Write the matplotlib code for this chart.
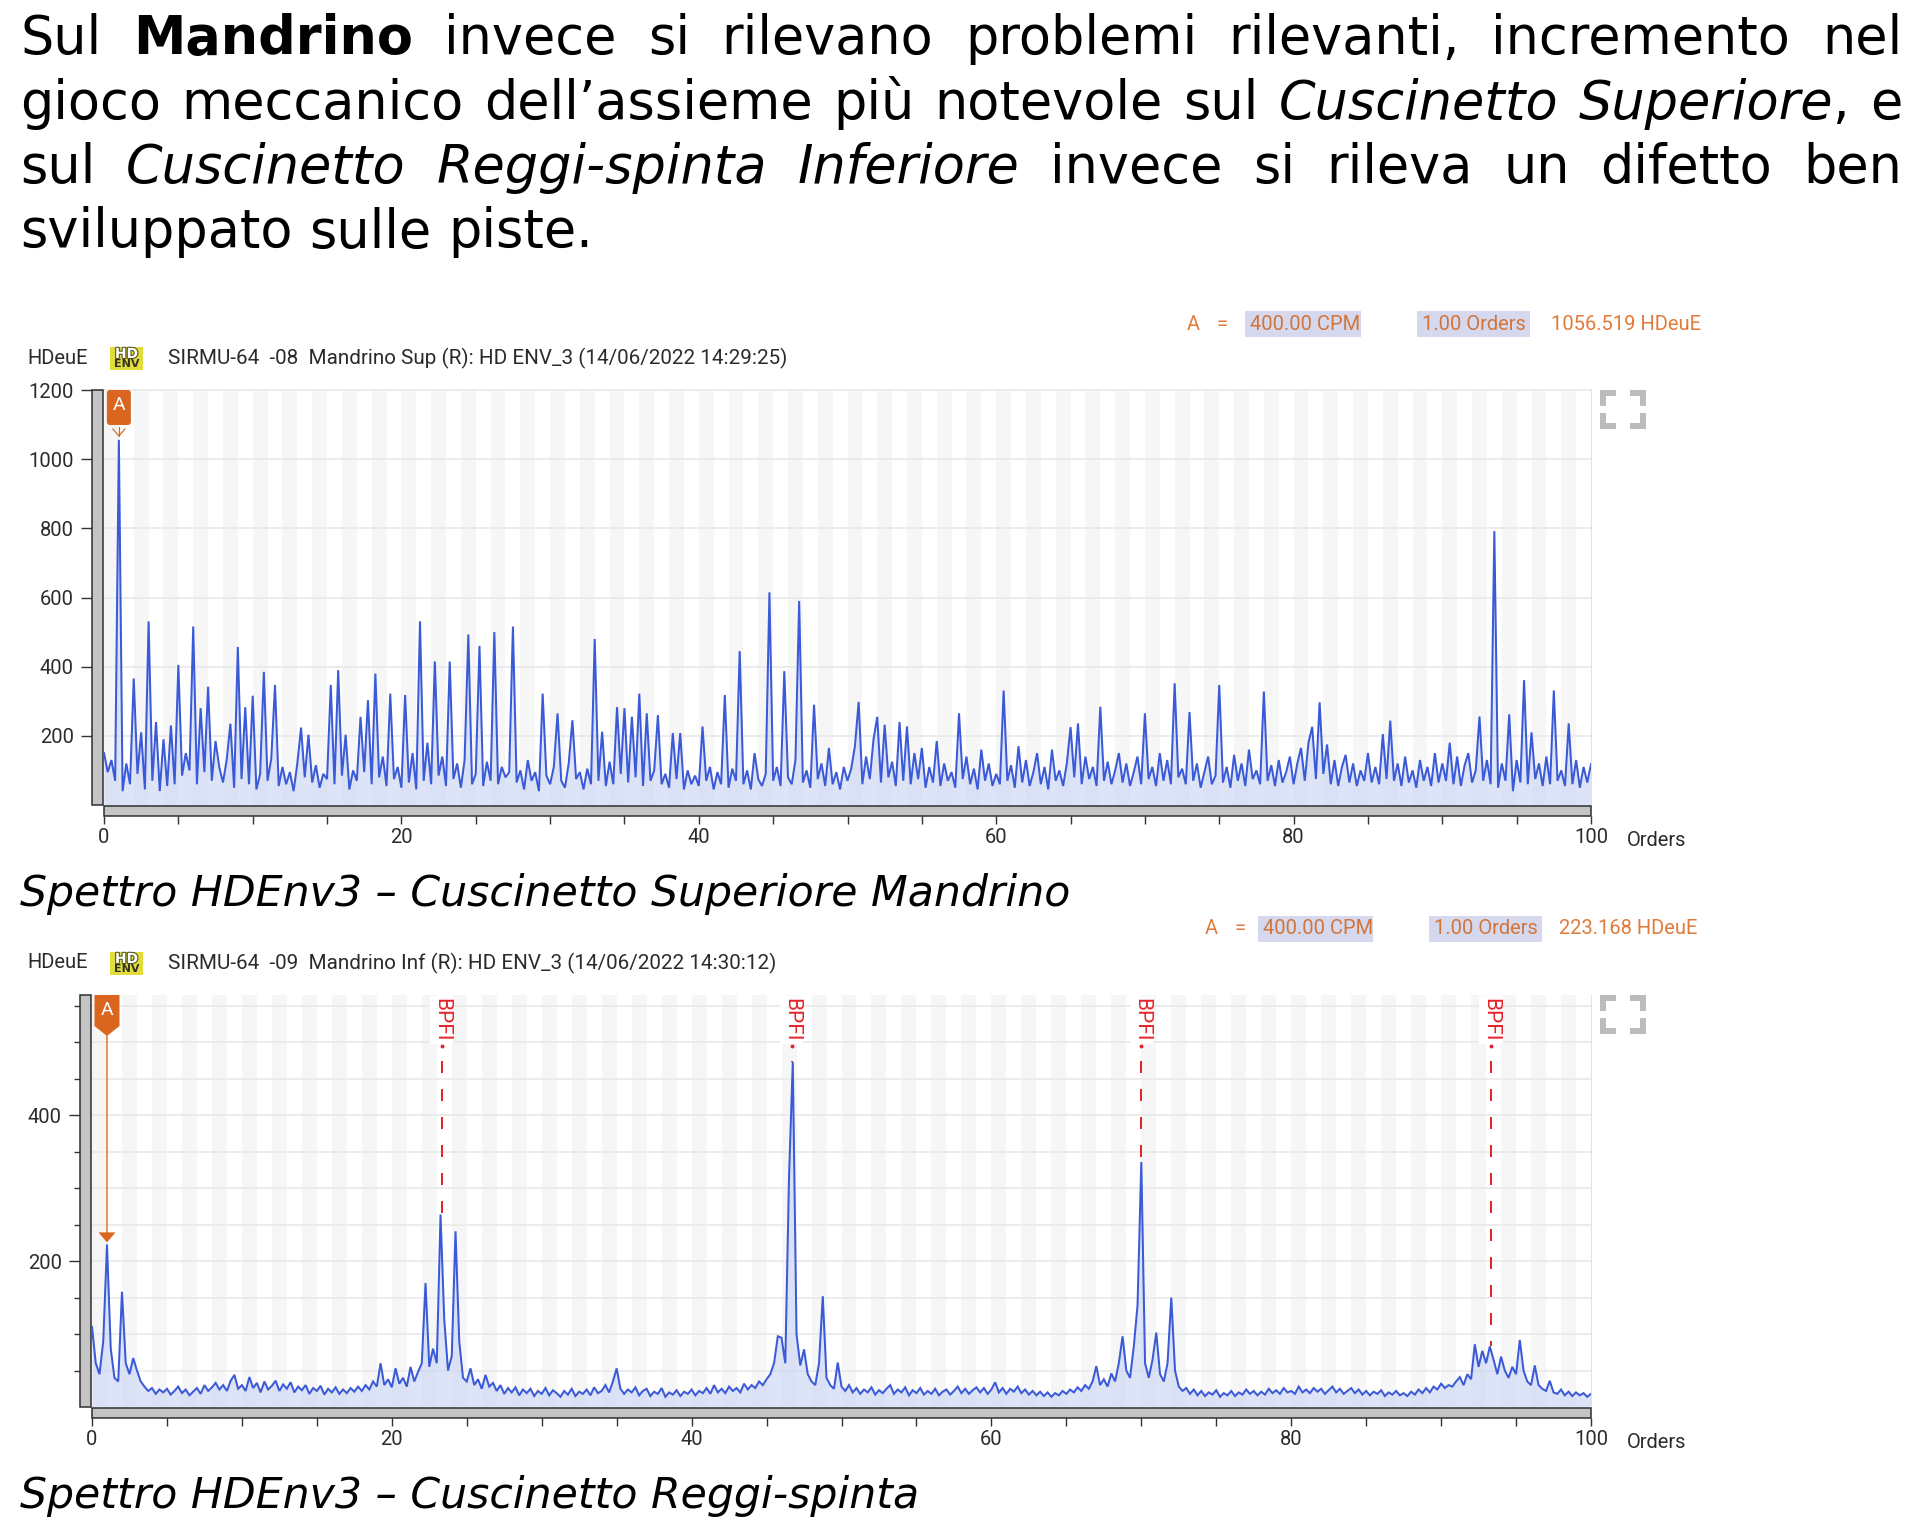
import re
import numpy as np
import matplotlib
matplotlib.use("Agg")
import matplotlib.pyplot as plt
from matplotlib.patches import Rectangle, Polygon, FancyBboxPatch
from matplotlib.lines import Line2D
import matplotlib.transforms as mtransforms
import matplotlib.patheffects as pe

# ------------------------------------------------------------------ data
orders = np.arange(0, 100.001, 0.25)          # spectral bins, orders

# HD ENV_3 spectrum, Mandrino Sup (R) - one row = 5 orders (20 bins)
amp_sup = [
    150, 95, 130, 70, 1056, 40, 120, 60, 366, 90, 210, 45, 531, 70, 240, 40, 190, 55, 230, 60,
    405, 85, 150, 100, 516, 60, 280, 95, 342, 70, 185, 110, 65, 130, 235, 50, 457, 75, 283, 60,
    316, 45, 90, 385, 70, 135, 347, 55, 110, 60, 95, 40, 120, 224, 80, 203, 65, 115, 50, 90,
    75, 347, 60, 390, 85, 203, 45, 100, 70, 255, 95, 303, 60, 380, 80, 140, 55, 322, 75, 110,
    50, 318, 65, 150, 45, 531, 70, 180, 60, 415, 85, 140, 55, 415, 75, 120, 50, 130, 493, 60,
    90, 460, 55, 125, 70, 500, 60, 110, 80, 95, 516, 65, 100, 45, 130, 70, 95, 40, 322, 85,
    60, 110, 265, 70, 50, 120, 245, 75, 95, 45, 105, 60, 480, 70, 212, 55, 125, 60, 283, 90,
    280, 65, 255, 80, 322, 55, 265, 70, 100, 260, 60, 90, 50, 208, 75, 208, 45, 100, 60, 85,
    55, 227, 70, 110, 45, 95, 60, 318, 50, 105, 70, 445, 60, 100, 45, 150, 75, 55, 90, 615,
    70, 110, 55, 387, 80, 60, 130, 590, 65, 100, 50, 290, 75, 120, 55, 165, 60, 95, 45, 110,
    70, 105, 170, 298, 60, 140, 75, 190, 255, 65, 232, 80, 125, 55, 240, 70, 227, 60, 150, 75,
    165, 50, 110, 65, 185, 55, 120, 70, 95, 50, 265, 75, 140, 60, 105, 45, 160, 70, 120, 55,
    90, 60, 331, 70, 115, 50, 170, 65, 130, 55, 95, 150, 60, 110, 45, 160, 70, 100, 55, 120,
    225, 80, 236, 60, 140, 75, 110, 55, 284, 70, 125, 60, 100, 150, 65, 120, 55, 95, 140, 60,
    265, 75, 110, 55, 150, 70, 130, 60, 352, 80, 105, 60, 269, 70, 120, 50, 95, 140, 60, 85,
    347, 65, 110, 50, 145, 70, 120, 55, 160, 75, 100, 60, 328, 70, 115, 55, 130, 65, 95, 140,
    60, 120, 165, 70, 180, 226, 75, 297, 90, 175, 60, 130, 55, 110, 145, 65, 120, 55, 100, 70,
    150, 65, 110, 60, 205, 75, 244, 70, 120, 55, 140, 65, 100, 50, 130, 70, 110, 55, 150, 65,
    120, 70, 180, 60, 140, 55, 115, 150, 65, 100, 256, 70, 130, 60, 792, 50, 120, 70, 262, 40,
    130, 65, 361, 60, 210, 75, 120, 55, 140, 60, 331, 70, 100, 55, 236, 60, 130, 50, 110, 65,
    118,
]

# HD ENV_3 spectrum, Mandrino Inf (R)
amp_inf = [
    110, 60, 45, 90, 223, 80, 40, 35, 158, 60, 45, 67, 50, 35, 28, 22, 26, 18, 24, 20,
    25, 17, 22, 28, 19, 24, 16, 21, 26, 18, 30, 22, 27, 33, 24, 30, 22, 36, 44, 25,
    30, 22, 41, 26, 33, 20, 35, 24, 29, 36, 22, 31, 25, 34, 20, 28, 23, 30, 18, 26,
    22, 29, 17, 25, 20, 27, 18, 24, 19, 26, 21, 28, 22, 30, 24, 35, 28, 60, 30, 38,
    27, 53, 32, 40, 28, 55, 35, 48, 60, 170, 55, 80, 60, 264, 120, 50, 70, 241, 90, 40,
    35, 53, 30, 38, 25, 44, 28, 33, 22, 30, 18, 26, 20, 27, 16, 24, 19, 25, 15, 22,
    18, 26, 16, 23, 19, 14, 22, 17, 25, 15, 21, 18, 24, 16, 27, 19, 22, 30, 20, 35,
    53, 25, 18, 24, 20, 27, 16, 22, 25, 15, 21, 18, 26, 14, 20, 17, 23, 15, 21, 18,
    24, 16, 22, 19, 26, 18, 30, 20, 25, 19, 28, 22, 26, 20, 32, 24, 30, 26, 35, 30,
    38, 45, 60, 97, 95, 60, 316, 473, 100, 57, 79, 45, 35, 30, 60, 152, 40, 30, 25, 61,
    28, 22, 30, 20, 26, 18, 24, 20, 27, 17, 23, 19, 25, 30, 18, 24, 20, 27, 16, 23,
    19, 26, 17, 22, 18, 25, 16, 21, 24, 17, 22, 28, 19, 25, 18, 23, 27, 20, 26, 18,
    24, 34, 20, 26, 18, 25, 21, 28, 19, 24, 17, 22, 16, 21, 15, 20, 14, 19, 16, 22,
    18, 24, 20, 27, 22, 30, 25, 35, 56, 30, 38, 28, 46, 35, 60, 97, 50, 40, 83, 140,
    336, 60, 40, 65, 102, 45, 35, 60, 150, 50, 28, 22, 26, 18, 24, 16, 22, 15, 20, 17,
    23, 14, 19, 16, 22, 15, 20, 17, 24, 18, 22, 16, 21, 17, 25, 19, 23, 18, 26, 20,
    22, 18, 28, 20, 24, 19, 26, 21, 25, 18, 23, 28, 20, 25, 18, 22, 26, 19, 24, 17,
    22, 16, 21, 18, 23, 15, 20, 17, 22, 16, 19, 15, 21, 17, 24, 19, 26, 20, 28, 24,
    32, 26, 30, 28, 35, 41, 30, 45, 38, 86, 55, 77, 60, 83, 65, 45, 69, 50, 40, 55,
    45, 92, 50, 35, 30, 57, 30, 25, 22, 36, 20, 18, 24, 16, 21, 15, 20, 16, 19, 14,
    18,
]

x_major = list(range(0, 101, 5))
x_labels = [0, 20, 40, 60, 80, 100]
sup_yticks = [200, 400, 600, 800, 1000, 1200]
sup_ymax = 1200
inf_yticks = [200, 400]
inf_yminor = [50, 100, 150, 250, 300, 350, 450, 500, 550]
inf_ymax = 565
bpfi_orders = [23.33, 46.67, 70.0, 93.33]
cursor_order = 1.0

unit = "HDeuE"
sup_title = "SIRMU-64  -08  Mandrino Sup (R): HD ENV_3 (14/06/2022 14:29:25)"
inf_title = "SIRMU-64  -09  Mandrino Inf (R): HD ENV_3 (14/06/2022 14:30:12)"
cursor_cpm = "400.00 CPM"
cursor_ord = "1.00 Orders"
sup_cursor_val = "1056.519 HDeuE"
inf_cursor_val = "223.168 HDeuE"
caption_sup = "Spettro HDEnv3 \u2013 Cuscinetto Superiore Mandrino"
caption_inf = "Spettro HDEnv3 \u2013 Cuscinetto Reggi-spinta"

para_lines = [
    ("Sul **Mandrino** invece si rilevano problemi rilevanti, incremento nel", True),
    ("gioco meccanico dell\u2019assieme più notevole sul _Cuscinetto_ _Superiore_, e", True),
    ("sul _Cuscinetto_ _Reggi-spinta_ _Inferiore_ invece si rileva un difetto ben", True),
    ("sviluppato sulle piste.", False),
]

# ------------------------------------------------------------------ figure
W, H = 1922, 1536
plt.rcParams['font.family'] = ['Roboto', 'DejaVu Sans']
fig = plt.figure(figsize=(W / 100, H / 100), dpi=100)
fig.patch.set_facecolor('white')
R = fig.canvas.get_renderer()
IDT = mtransforms.IdentityTransform()

LINE_C = '#3a5ad8'
FILL_C = '#c9d3f3'
STRIPE_C = '#f6f6f6'
GRID_C = '#e9e9e9'
ORANGE = '#e07b3a'
TAG_C = '#d9651f'
TXT_C = '#2b2b2b'
RED = '#e5242b'
PX = 0.72  # points per pixel


def ftext(x, y, s, **kw):
    return fig.text(x / W, 1 - y / H, s, **kw)


def text_w(s, **kw):
    t = fig.text(0, 0, s, **kw)
    w = t.get_window_extent(R).width
    t.remove()
    return w


def rect_px(x0, y0, x1, y1, **kw):
    r = Rectangle((x0, H - y1), x1 - x0, y1 - y0, transform=IDT, **kw)
    fig.add_artist(r)
    return r


def line_px(pts, **kw):
    xs = [p[0] for p in pts]
    ys = [H - p[1] for p in pts]
    ln = Line2D(xs, ys, transform=IDT, **kw)
    fig.add_artist(ln)
    return ln


# ------------------------------------------------------------------ paragraph
PFONT = 'DejaVu Sans'
P_LEFT, P_RIGHT = 20, 1902
p_size = 10 * 573 / text_w(para_lines[3][0], family=PFONT, fontsize=10)


def segs(word):
    out = []
    for m in re.finditer(r'\*\*(.+?)\*\*|_(.+?)_|([^*_]+)', word):
        if m.group(1):
            out.append((m.group(1), 'bold', 'normal'))
        elif m.group(2):
            out.append((m.group(2), 'normal', 'italic'))
        else:
            out.append((m.group(3), 'normal', 'normal'))
    return out


space_w = text_w('a a', family=PFONT, fontsize=p_size) - text_w('aa', family=PFONT, fontsize=p_size)
baselines = [54, 118.5, 183, 247.5]
for (line, just), yb in zip(para_lines, baselines):
    words = [segs(w) for w in line.split(' ')]
    widths = [[text_w(t, family=PFONT, fontsize=p_size, weight=wt, style=st) for t, wt, st in ws]
              for ws in words]
    total = sum(sum(w) for w in widths)
    gap = (P_RIGHT - P_LEFT - total) / (len(words) - 1) if just else space_w
    x = P_LEFT
    for ws, wl in zip(words, widths):
        for (t, wt, st), w in zip(ws, wl):
            ftext(x, yb, t, family=PFONT, fontsize=p_size, weight=wt, style=st,
                  ha='left', va='baseline', color='black')
            x += w
        x += gap

# captions
c_size = 10 * 1049 / text_w(caption_sup, family=PFONT, fontsize=10, style='italic')
ftext(20, 906, caption_sup, family=PFONT, fontsize=c_size, style='italic', va='baseline', color='black')
ftext(20, 1508, caption_inf, family=PFONT, fontsize=c_size, style='italic', va='baseline', color='black')

# ------------------------------------------------------------------ charts
FS = 14.5


def hd_icon(x0, yc):
    rect_px(x0, yc - 11.5, x0 + 33, yc + 11.5, facecolor='#e2dd3c', edgecolor='none')
    t = ftext(x0 + 16.5, yc - 4, 'HD', fontsize=10, weight='bold', color='white',
              ha='center', va='center', family='DejaVu Sans', zorder=5)
    t.set_path_effects([pe.withStroke(linewidth=1.6, foreground='#555522')])
    ftext(x0 + 16.5, yc + 6, 'ENV', fontsize=8, color='#333322', ha='center', va='center',
          family='DejaVu Sans', weight='bold', zorder=5)


def max_icon(x0, y0, x1, y1):
    a = 13
    kw = dict(color='#bcbcbc', lw=6 * PX, solid_capstyle='butt', solid_joinstyle='miter')
    line_px([(x0, y0 + a), (x0, y0), (x0 + a, y0)], **kw)
    line_px([(x1 - a, y0), (x1, y0), (x1, y0 + a)], **kw)
    line_px([(x0, y1 - a), (x0, y1), (x0 + a, y1)], **kw)
    line_px([(x1 - a, y1), (x1, y1), (x1, y1 - a)], **kw)


def header(yc, xa, b1, b2, xv, val):
    ftext(xa, yc, 'A', fontsize=FS, color=ORANGE, ha='left', va='center')
    ftext(xa + 29, yc, '=', fontsize=FS, color=ORANGE, ha='left', va='center')
    rect_px(b1[0], yc - 13, b1[1], yc + 13, facecolor='#d6d9ee', edgecolor='none')
    ftext(b1[0] + 5, yc, cursor_cpm, fontsize=FS, color='#d2743a', ha='left', va='center', zorder=5)
    rect_px(b2[0], yc - 13, b2[1], yc + 13, facecolor='#d6d9ee', edgecolor='none')
    ftext(b2[0] + 5, yc, cursor_ord, fontsize=FS, color='#d2743a', ha='left', va='center', zorder=5)
    ftext(xv, yc, val, fontsize=FS, color=ORANGE, ha='left', va='center')


def make_chart(l, t, r, b, amp, ymax, yticks, yminor, grid, title, yc_head, yc_title, title_w):
    ax = fig.add_axes([l / W, 1 - b / H, (r - l) / W, (b - t) / H])
    ax.set_facecolor('white')
    for k in range(0, 100, 2):
        ax.axvspan(k, k + 1, color=STRIPE_C, lw=0, zorder=0)
    for g in grid:
        ax.axhline(g, color=GRID_C, lw=1.2, zorder=0.5, clip_on=False)
    ax.fill_between(orders, amp, 0, color=FILL_C, alpha=0.6, lw=0, zorder=1)
    ax.plot(orders, amp, color=LINE_C, lw=1.45, zorder=2, solid_joinstyle='miter')
    ax.set_xlim(0, 100)
    ax.set_ylim(0, ymax)

    for s in ['left', 'bottom', 'top']:
        ax.spines[s].set_color('none')
    ax.spines['right'].set_color('#e2e2e2')
    ax.spines['left'].set_position(('outward', 12 * PX))
    ax.spines['bottom'].set_position(('outward', 11 * PX))

    ax.set_xticks(x_major)
    ax.set_xticklabels([str(v) if v in x_labels else '' for v in x_major])
    ax.set_yticks(yticks)
    ax.set_yticklabels([str(v) for v in yticks])
    if yminor:
        ax.set_yticks(yminor, minor=True)
    ax.tick_params(axis='x', length=8 * PX, width=1.4 * PX, color='#333333', pad=4 * PX,
                   labelsize=FS, labelcolor=TXT_C)
    ax.tick_params(axis='y', which='major', length=11 * PX, width=1.4 * PX, color='#333333',
                   pad=7 * PX, labelsize=FS, labelcolor=TXT_C)
    ax.tick_params(axis='y', which='minor', length=6 * PX, width=1.4 * PX, color='#333333')

    # scroll bars
    rect_px(l - 12, t, l - 1, b, facecolor='#c4c4c4', edgecolor='#2a2a2a', lw=1.5 * PX)
    rect_px(l, b + 1, r, b + 11, facecolor='#c4c4c4', edgecolor='#2a2a2a', lw=1.5 * PX)

    ftext(r + 36, b + 36, 'Orders', fontsize=FS, color=TXT_C, ha='left', va='center')
    ftext(27, yc_title, unit, fontsize=FS, color=TXT_C, ha='left', va='center')
    hd_icon(110, yc_title)
    ts = FS * title_w / text_w(title, fontsize=FS)
    ftext(168, yc_title, title, fontsize=ts, color=TXT_C, ha='left', va='center')
    max_icon(1603, t + 3, 1643, t + 36)
    return ax


# top chart
ax1 = make_chart(104, 390, 1591, 805, amp_sup, sup_ymax, sup_yticks, None, sup_yticks,
                 sup_title, 324, 358, 617)
header(324, 1187, (1245, 1361), (1417, 1530), 1551, sup_cursor_val)

# bottom chart
ax2 = make_chart(92, 995, 1591, 1407, amp_inf, inf_ymax, inf_yticks, inf_yminor,
                 list(range(50, 551, 50)), inf_title, 929, 963, 607)
header(929, 1205, (1258, 1373), (1429, 1542), 1559, inf_cursor_val)

# BPFI markers (bottom chart)
amp_inf_arr = np.array(amp_inf, dtype=float)
blend2 = mtransforms.blended_transform_factory(ax2.transData, ax2.transAxes)
for bo in bpfi_orders:
    ax2.text(bo, 1 - 3 / 412, 'BPFI', transform=blend2, rotation=-90, ha='center', va='top',
             color=RED, fontsize=15, zorder=5,
             bbox=dict(facecolor='white', edgecolor='none', pad=1.5))
    near = np.abs(orders - bo) <= 0.3
    yv = float(amp_inf_arr[near].max())
    ytop = inf_ymax * (1 - 66 / 412)
    ax2.plot([bo, bo], [ytop, yv], color=RED, lw=2 * PX, ls=(0, (6, 8)), zorder=4)
    ax2.plot([bo], [inf_ymax * (1 - 51 / 412)], marker='o', ms=1.8, color=RED, zorder=4)

# cursor A tags
xa1 = ax1.transData.transform((cursor_order, 0))[0]
tag1 = FancyBboxPatch((xa1 - 12, H - 425), 24, 35, boxstyle='round,pad=0,rounding_size=3',
                      transform=IDT, facecolor=TAG_C, edgecolor='none', zorder=10)
fig.add_artist(tag1)
ftext(xa1, 405, 'A', fontsize=14, color='white', ha='center', va='center', zorder=12)
line_px([(xa1 - 6, 429), (xa1, 436), (xa1 + 6, 429)], color=TAG_C, lw=1.2 * PX)
line_px([(xa1, 427), (xa1, 436)], color=TAG_C, lw=1.2 * PX)

xa2, ya2 = ax2.transData.transform((cursor_order, amp_inf[4]))
ya2 = H - ya2  # to top-based pixels
tag2 = Polygon([(xa2 - 12.5, H - 995), (xa2 + 12.5, H - 995), (xa2 + 12.5, H - 1026),
                (xa2, H - 1036), (xa2 - 12.5, H - 1026)], closed=True, transform=IDT,
               facecolor=TAG_C, edgecolor='none', zorder=10)
fig.add_artist(tag2)
ftext(xa2, 1010, 'A', fontsize=14, color='white', ha='center', va='center', zorder=12)
tip = ya2 - 2
line_px([(xa2, 1036), (xa2, tip - 9)], color=ORANGE, lw=1.6 * PX)
tri = Polygon([(xa2 - 8.5, H - (tip - 10)), (xa2 + 8.5, H - (tip - 10)), (xa2, H - tip)],
              closed=True, transform=IDT, facecolor=TAG_C, edgecolor='none', zorder=10)
fig.add_artist(tri)

fig.savefig('out.png', dpi=100, facecolor='white')
